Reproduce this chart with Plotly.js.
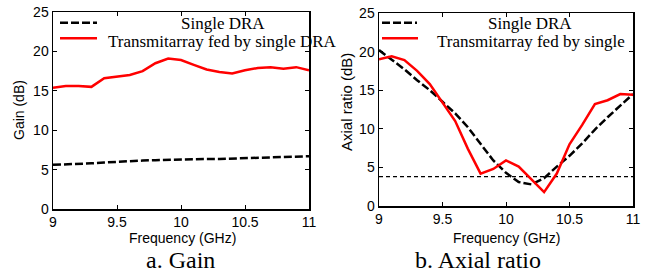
<!DOCTYPE html>
<html>
<head>
<meta charset="utf-8">
<script src="https://cdn.plot.ly/plotly-3.0.1.min.js"></script>
<style>html,body{margin:0;padding:0;background:#fff;}#chart{width:652px;height:276px;}</style>
</head>
<body>
<div id="chart"></div>
<script>
// ---- data ----
const freq = [9.0, 9.1, 9.2, 9.3, 9.4, 9.5, 9.6, 9.7, 9.8, 9.9, 10.0, 10.1, 10.2, 10.3, 10.4, 10.5, 10.6, 10.7, 10.8, 10.9, 11.0];
const gainSingle = [5.6, 5.65, 5.75, 5.8, 5.9, 6.0, 6.05, 6.15, 6.2, 6.25, 6.3, 6.3, 6.35, 6.35, 6.4, 6.45, 6.5, 6.55, 6.6, 6.65, 6.7];
const gainTA = [15.4, 15.6, 15.6, 15.5, 16.6, 16.8, 17.0, 17.5, 18.5, 19.1, 18.9, 18.3, 17.7, 17.4, 17.2, 17.6, 17.9, 18.0, 17.8, 18.0, 17.6];
const arSingle = [20.2, 19.0, 17.7, 16.3, 15.0, 13.5, 12.0, 10.2, 8.0, 5.9, 4.3, 3.1, 2.8, 3.6, 5.1, 6.5, 8.1, 9.9, 11.5, 13.0, 14.5];
const arTA = [19.0, 19.4, 18.9, 17.5, 15.8, 13.4, 11.0, 7.4, 4.2, 4.8, 5.9, 5.1, 3.5, 1.8, 4.2, 8.0, 10.5, 13.2, 13.7, 14.5, 14.4];
const arRefFreq = [9, 11];
const arRef = [3.8, 3.8];
const xTicks = [9, 9.5, 10, 10.5, 11];
const xTickText = ['9', '9.5', '10', '10.5', '11'];
const yTicks = [0, 5, 10, 15, 20, 25];
const legendNames = ['Single DRA', 'Transmitarray fed by single DRA', 'Transmitarray fed by single'];
const captions = ['a. Gain', 'b. Axial ratio'];

// ---- layout helpers ----
const W = 652, H = 276;
const px = x => x / W;
const py = y => 1 - y / H;
const sans = 'Liberation Sans, Arial, sans-serif';
const serif = 'Liberation Serif, Times New Roman, serif';

const traces = [
  {x: freq, y: gainSingle, type: 'scatter', mode: 'lines', xaxis: 'x', yaxis: 'y',
   line: {color: '#000', width: 2.5, dash: '8px,3px'}, showlegend: false},
  {x: freq, y: gainTA, type: 'scatter', mode: 'lines', xaxis: 'x', yaxis: 'y',
   line: {color: '#ff0000', width: 2.5}, showlegend: false},
  {x: arRefFreq, y: arRef, type: 'scatter', mode: 'lines', xaxis: 'x2', yaxis: 'y2',
   line: {color: '#000', width: 1.2, dash: '4px,3px'}, showlegend: false},
  {x: freq, y: arSingle, type: 'scatter', mode: 'lines', xaxis: 'x2', yaxis: 'y2',
   line: {color: '#000', width: 2.5, dash: '8px,3px'}, showlegend: false},
  {x: freq, y: arTA, type: 'scatter', mode: 'lines', xaxis: 'x2', yaxis: 'y2',
   line: {color: '#ff0000', width: 2.5}, showlegend: false}
];

function xa(d0, d1) {
  return {domain: [px(d0), px(d1)], range: [9, 11], tickvals: xTicks, ticktext: xTickText,
    ticks: 'inside', ticklen: 4, tickcolor: '#000', mirror: 'ticks', showline: true,
    linecolor: '#000', linewidth: 1.5, showgrid: false, zeroline: false,
    tickfont: {family: sans, size: 14, color: '#000'}};
}
function ya(top, bot, anchor) {
  return {domain: [py(bot), py(top)], range: [0, 25], tickvals: yTicks,
    ticks: 'inside', ticklen: 4, tickcolor: '#000', mirror: 'ticks', showline: true,
    linecolor: '#000', linewidth: 1.5, showgrid: false, zeroline: false, anchor: anchor,
    tickfont: {family: sans, size: 14, color: '#000'}};
}

const x1a = xa(53, 309); x1a.anchor = 'y';
const x2a = xa(379, 633); x2a.anchor = 'y2';

const ann = [];
function txt(text, x, y, size, family, xanchor, angle) {
  ann.push({text: text, x: px(x), y: py(y), xref: 'paper', yref: 'paper', showarrow: false,
    xanchor: xanchor || 'center', yanchor: 'middle', textangle: angle || 0,
    font: {family: family, size: size, color: '#000'}});
}
// axis titles
txt('Frequency (GHz)', 182, 238, 14, sans);
txt('Frequency (GHz)', 506, 238, 14, sans);
txt('Gain (dB)', 19, 110, 14, sans, 'center', -90);
txt('Axial ratio (dB)', 346, 102, 15, sans, 'center', -90);
// legends
txt(legendNames[0], 223, 23, 17, serif);
txt(legendNames[1], 106, 41, 17, serif, 'left');
txt(legendNames[0], 530, 23, 17, serif);
txt(legendNames[2], 435, 41, 17, serif, 'left');
// captions
txt(captions[0], 180, 260, 24, serif);
txt(captions[1], 478, 260, 24, serif);

const shapes = [
  {type: 'line', xref: 'paper', yref: 'paper', x0: px(60), x1: px(97), y0: py(22.7), y1: py(22.7),
   line: {color: '#000', width: 2.5, dash: '8px,3px'}},
  {type: 'line', xref: 'paper', yref: 'paper', x0: px(60), x1: px(97), y0: py(38.3), y1: py(38.3),
   line: {color: '#ff0000', width: 2.5}},
  {type: 'line', xref: 'paper', yref: 'paper', x0: px(382), x1: px(417), y0: py(22.7), y1: py(22.7),
   line: {color: '#000', width: 2.5, dash: '8px,3px'}},
  {type: 'line', xref: 'paper', yref: 'paper', x0: px(382), x1: px(418), y0: py(38.3), y1: py(38.3),
   line: {color: '#ff0000', width: 2.5}}
];

const layout = {
  width: W, height: H, margin: {l: 0, r: 0, t: 0, b: 0},
  paper_bgcolor: '#fff', plot_bgcolor: '#fff', showlegend: false,
  xaxis: x1a, yaxis: ya(12, 209, 'x'),
  xaxis2: x2a, yaxis2: ya(13, 206, 'x2'),
  annotations: ann, shapes: shapes
};

Plotly.newPlot('chart', traces, layout, {staticPlot: true, displayModeBar: false});
</script>
</body>
</html>
